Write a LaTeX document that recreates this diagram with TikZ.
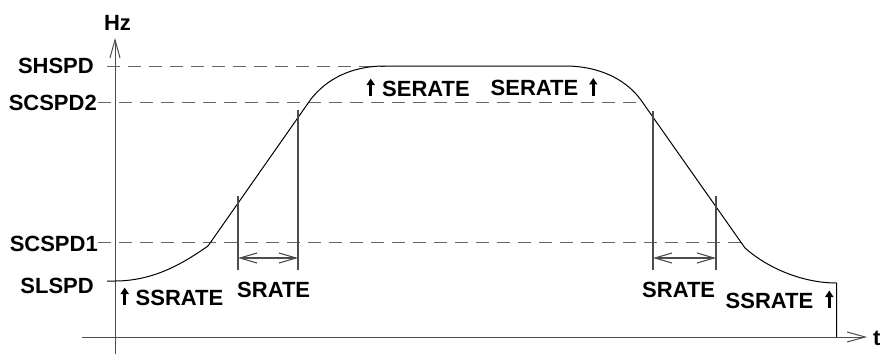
\documentclass[tikz,border=0pt]{standalone}
\usepackage{fontspec}
\setmainfont{Liberation Sans}
\usetikzlibrary{arrows.meta}
\newcommand{\uparr}{\tikz[baseline=0pt]{\draw[line width=2.5pt,line cap=butt,-{Triangle[length=6.5pt,width=8pt]}] (0pt,0pt) -- (0pt,17.5pt);}}
\begin{document}
\begin{tikzpicture}[x=1pt,y=-1pt,
  lbl/.style={inner sep=0pt,font=\fontsize{22}{22}\selectfont\bfseries},
  axisline/.style={draw=black!70,line width=1pt},
  barline/.style={draw=black!70,line width=1.1pt},
  guide/.style={draw=black!60,line width=1pt,dash pattern=on 13pt off 8pt},
  curveline/.style={draw=black,line width=1pt},
  axtip/.style={-{Straight Barb[length=18pt,width=10pt]}},
  dimarrow/.style={{Straight Barb[length=17pt,width=10pt]}-{Straight Barb[length=17pt,width=10pt]}}]
\useasboundingbox (0,0) rectangle (885,361);
% axes
\coordinate (yb) at (115,354);
\coordinate (yt) at (115,38);
\coordinate (xl) at (82,337);
\coordinate (xr) at (867,337);
\draw[axisline,axtip] (yb) -- (yt);
\draw[axisline,axtip] (xl) -- (xr);
% curve key points
\coordinate (S0) at (107,281);
\coordinate (A) at (115,281);
\coordinate (B) at (208,246);
\coordinate (C) at (311,99);
\coordinate (D) at (385,66);
\coordinate (E) at (565,66);
\coordinate (F) at (643,103);
\coordinate (G) at (745,248);
\coordinate (H) at (836.5,283);
\coordinate (Hb) at (836.5,337);
% guide lines
\coordinate (g1) at (107,66);
\coordinate (g2a) at (98,102);
\coordinate (g2b) at (643,102);
\coordinate (g3a) at (98,242);
\coordinate (g3b) at (742,242);
\draw[guide] (g1) -- (D);
\draw[guide] (g2a) -- (g2b);
\draw[guide] (g3a) -- (g3b);
% curve
\draw[curveline] (S0) -- (A) .. controls (155,281) and (185,262) .. (B)
  -- (C) .. controls (326,80) and (350,66) .. (D) -- (E)
  .. controls (600,66) and (628,80) .. (F) -- (G)
  .. controls (770,270) and (805,283) .. (H) -- (Hb);
% bars
\coordinate (b1t) at (238,196); \coordinate (b1b) at (238,270);
\coordinate (b2t) at (298,110); \coordinate (b2b) at (298,270);
\coordinate (b3t) at (653,111); \coordinate (b3b) at (653,270);
\coordinate (b4t) at (716,196); \coordinate (b4b) at (716,270);
\draw[barline] (b1t) -- (b1b);
\draw[barline] (b2t) -- (b2b);
\draw[barline] (b3t) -- (b3b);
\draw[barline] (b4t) -- (b4b);
\coordinate (d1a) at (238,258); \coordinate (d1b) at (298,258);
\coordinate (d2a) at (653,258); \coordinate (d2b) at (716,258);
\draw[barline,dimarrow] (d1a) -- (d1b);
\draw[barline,dimarrow] (d2a) -- (d2b);
% labels
\node[lbl,anchor=base] (hz) at (117.5,31) {Hz};
\node[lbl,anchor=base west] (t) at (873,345) {t};
\node[lbl,anchor=base east] (shspd) at (94,73) {SHSPD};
\node[lbl,anchor=base east] (scspd2) at (97,110) {SCSPD2};
\node[lbl,anchor=base east] (scspd1) at (98,251) {SCSPD1};
\node[lbl,anchor=base east] (slspd) at (94,293) {SLSPD};
\node[lbl,anchor=base west] (ssrate1) at (120.5,305) {\uparr\hspace{7pt}SSRATE};
\node[lbl,anchor=base west] (srate1) at (237,297) {SRATE};
\node[lbl,anchor=base west] (serate1) at (366.5,96) {\uparr\hspace{7.5pt}SERATE};
\node[lbl,anchor=base east] (serate2) at (597.5,95.5) {SERATE\hspace{11pt}\uparr};
\node[lbl,anchor=base east] (ssrate2) at (833.5,308) {SSRATE\hspace{12pt}\uparr};
\node[lbl,anchor=base west] (srate2) at (642,297) {SRATE};
\end{tikzpicture}
\end{document}
